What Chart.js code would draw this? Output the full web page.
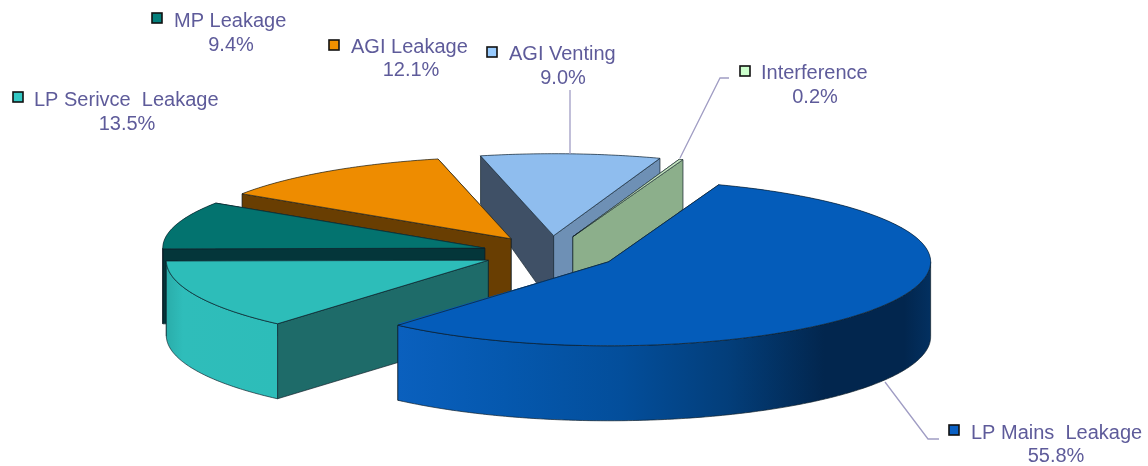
<!DOCTYPE html>
<html><head><meta charset="utf-8">
<style>html,body{margin:0;padding:0;background:#fff}canvas{display:block;filter:blur(0.4px)}</style>
<script src="https://cdn.jsdelivr.net/npm/chart.js@4"></script>
</head><body><canvas id="c" width="1148" height="466"></canvas>
<script>
const categories = ['LP Mains  Leakage','LP Serivce  Leakage','MP Leakage','AGI Leakage','AGI Venting','Interference'];
const shares = [55.8,13.5,9.4,12.1,9.0,0.2];
const topColors = ['#045CBA','#2DBDB9','#03736F','#EE8C00','#8FBDEE','#C4E4BE'];
const startWallColors = ['#03305F','#1E6B69','#04363A','#693E02','#3F5066','#8CAF8B'];
const endWallColors = ['#03305F','#1E6B69','#04363A','#693E02','#6E90B5','#8CAF8B'];
const outerStops = [
  [[0,'#0A60BE'],[0.2,'#0558AE'],[0.42,'#034E9B'],[0.62,'#033E7A'],[0.8,'#02264E'],[0.95,'#02264E'],[1,'#033060']],
  [[0,'#2AADAA'],[0.15,'#2FBDBA'],[1,'#2DBDB9']],
  [[0,'#04363A'],[1,'#04363A']],
  [[0,'#693E02'],[1,'#693E02']],
  [[0,'#6E90B5'],[1,'#6E90B5']],
  [[0,'#8CAF8B'],[1,'#8CAF8B']]
];
const swatchColors = ['#0A60C4','#33C8C4','#04807C','#F09000','#99CCFF','#CCFFCC'];
const drawOrder = [4,5,3,2,1,0];
// layout: [swatch x, swatch y, text left, name baseline, pct centre, pct baseline]
const labelLayout = [
  [954,430,971,439,1056,462],
  [18,97,34,106,127,130],
  [157,18,174,27,231,51],
  [334,45,351,53,411,76],
  [492,52,509,60,563,84],
  [745,71,761,79,815,103]
];
const leaderLines = [
  [[885,382],[928,439],[939,439]],
  [[570,90],[570,154]],
  [[729,78],[720,78],[680,158]]
];
const PIE = {cx:550, cy:253, a:322, b:82, bFront:84, explode:68, depthMax:75, depthBack:48};
const TEXT = '#5E5B9A';

function depthAt(y){ return Math.min(PIE.depthMax, PIE.depthBack + 0.29*(y-155)); }

const pie3d = {
  id:'pie3d',
  beforeDatasetsDraw(chart){
    const ctx = chart.ctx, arcs = chart.getDatasetMeta(0).data;
    drawOrder.forEach(i=>{
      const arc = arcs[i], R = arc.outerRadius;
      const s0 = arc.startAngle, s1 = arc.endAngle, mid = (s0+s1)/2;
      const tx = PIE.cx + Math.cos(mid)*PIE.explode;
      const ty = PIE.cy + Math.sin(mid)*PIE.explode*PIE.b/PIE.a;
      const P = t => { const s=Math.sin(t); return [tx+Math.cos(t)*PIE.a, ty+s*(s>0?PIE.bFront:PIE.b)]; };
      const down = p => [p[0], p[1]+depthAt(p[1])];
      const poly = (pts,fill)=>{
        ctx.beginPath(); pts.forEach((p,k)=>k?ctx.lineTo(p[0],p[1]):ctx.moveTo(p[0],p[1])); ctx.closePath();
        ctx.fillStyle = fill; ctx.fill();
        ctx.strokeStyle = 'rgba(15,30,40,0.85)'; ctx.lineWidth = 0.8; ctx.stroke();
      };
      const T = [tx,ty];
      const walls = [[s0,startWallColors[i]],[s1,endWallColors[i]]].sort((u,v)=>P(u[0])[1]-P(v[0])[1]);
      walls.forEach(w=>poly([T,P(w[0]),down(P(w[0])),down(T)],w[1]));
      // outer wall: the front half of the rim only
      let from=null,to=null;
      for(const shift of [-2*Math.PI,0,2*Math.PI]){
        const lo=Math.max(s0,shift), hi=Math.min(s1,shift+Math.PI);
        if(hi>lo){from=lo;to=hi;break;}
      }
      if(from!==null){
        const upper=[],steps=Math.max(2,Math.ceil((to-from)*90));
        for(let k=0;k<=steps;k++) upper.push(P(from+(to-from)*k/steps));
        const lower=upper.map(down).reverse();
        const xs=upper.map(p=>p[0]), x0=Math.min(...xs), x1=Math.max(...xs);
        const g=ctx.createLinearGradient(x0,0,x1,0);
        outerStops[i].forEach(s=>g.addColorStop(s[0],s[1]));
        poly(upper.concat(lower),g);
      }
      // top face: the library's own arc element under a flattening transform
      ctx.save();
      ctx.translate(tx,ty); ctx.scale(PIE.a/R,PIE.b/R); ctx.translate(-arc.x,-arc.y);
      arc.draw(ctx);
      ctx.restore();
      ctx.beginPath(); ctx.moveTo(T[0],T[1]);
      const n=Math.max(2,Math.ceil((s1-s0)*90));
      for(let k=0;k<=n;k++){const p=P(s0+(s1-s0)*k/n);ctx.lineTo(p[0],p[1]);}
      ctx.closePath(); ctx.fillStyle=topColors[i]; ctx.fill();
      ctx.strokeStyle='rgba(15,30,40,0.85)'; ctx.lineWidth=0.8; ctx.stroke();
    });
    return false;
  },
  afterDraw(chart){
    const ctx = chart.ctx;
    ctx.save();
    ctx.strokeStyle='#A09DC4'; ctx.lineWidth=1.3;
    leaderLines.forEach(l=>{ctx.beginPath();l.forEach((p,k)=>k?ctx.lineTo(p[0],p[1]):ctx.moveTo(p[0],p[1]));ctx.stroke();});
    ctx.font='20px "Liberation Sans", Arial, sans-serif';
    ctx.textBaseline='alphabetic';
    categories.forEach((name,i)=>{
      const L=labelLayout[i];
      ctx.fillStyle=swatchColors[i]; ctx.strokeStyle='#111'; ctx.lineWidth=1.6;
      ctx.fillRect(L[0]-5,L[1]-5,10,10); ctx.strokeRect(L[0]-5,L[1]-5,10,10);
      ctx.fillStyle=TEXT;
      ctx.textAlign='left'; ctx.fillText(name,L[2],L[3]);
      ctx.textAlign='center'; ctx.fillText(shares[i].toFixed(1)+'%',L[4],L[5]);
    });
    ctx.restore();
  }
};

new Chart(document.getElementById('c'),{
  type:'pie',
  data:{labels:categories,datasets:[{data:shares,backgroundColor:topColors,borderWidth:0}]},
  options:{responsive:false,animation:false,rotation:20,
    layout:{padding:0},
    plugins:{legend:{display:false},tooltip:{enabled:false},title:{display:false}}},
  plugins:[pie3d]
});
</script></body></html>
